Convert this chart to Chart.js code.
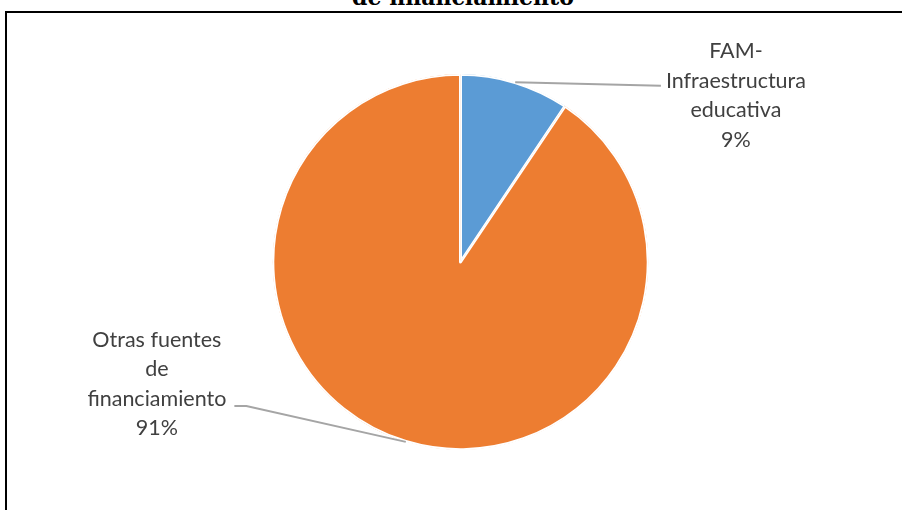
<!DOCTYPE html>
<html>
<head>
<meta charset="utf-8">
<script src="https://cdn.jsdelivr.net/npm/chart.js@4"></script>
<style>
  body { margin: 0; background: #fff; overflow: hidden; }
  #wrap { position: absolute; left: 0; top: 0; width: 902px; height: 510px; }
  #frame { position: absolute; left: 5px; top: 11px; right: -10px; bottom: -10px; border: 2px solid #000; pointer-events: none; }
  #title { position: absolute; left: 0; width: 926px; top: -14px; text-align: center; font: bold 22px "DejaVu Serif", serif; line-height: 22px; color: #000; }
</style>
</head>
<body>
<div id="title">de financiamiento</div>
<div id="frame"></div>
<div id="wrap"><canvas id="pie"></canvas></div>
<script>
const categories = ['FAM-Infraestructura educativa', 'Otras fuentes de financiamiento'];
const labelLines = [['FAM-', 'Infraestructura', 'educativa'], ['Otras fuentes', 'de', 'financiamiento']];
const values = [9.4, 90.6];
const sliceColors = ['#5B9BD5', '#ED7D31'];

const total = values.reduce((a, b) => a + b, 0);

// etiquetas con linea guia, estilo Excel
const leaderLabels = {
    id: 'leaderLabels',
    afterDraw(chart) {
        const ctx = chart.ctx;
        const arcs = chart.getDatasetMeta(0).data;
        ctx.save();
        ctx.font = '21.5px Lato';
        ctx.textAlign = 'center';
        ctx.textBaseline = 'middle';
        arcs.forEach((arc, i) => {
            const p = arc.getProps(['x', 'y', 'startAngle', 'endAngle', 'outerRadius'], true);
            const mid = (p.startAngle + p.endAngle) / 2;
            const ax = p.x + Math.cos(mid) * p.outerRadius;
            const ay = p.y + Math.sin(mid) * p.outerRadius;
            const lines = labelLines[i].concat([Math.round(values[i] / total * 100) + '%']);
            const right = Math.cos(mid) > 0;
            const cx = right ? p.x + p.outerRadius * 1.465 : p.x - p.outerRadius * 1.615;
            const cy = right ? p.y - p.outerRadius * 0.885 : p.y + p.outerRadius * 0.65;
            const lh = 29.5;
            const top = cy - lh * (lines.length - 1) / 2;

            ctx.strokeStyle = '#A5A5A5';
            ctx.lineWidth = 2;
            ctx.beginPath();
            ctx.moveTo(ax, ay);
            if (right) {
                const w = ctx.measureText(lines[1]).width;
                ctx.lineTo(cx - w / 2 - 5, top + lh + 5);
            } else {
                const w = ctx.measureText(lines[2]).width;
                const ly = top + lh * 2 + 7;
                ctx.lineTo(cx + w / 2 + 20, ly);
                ctx.lineTo(cx + w / 2 + 8, ly);
            }
            ctx.stroke();

            ctx.fillStyle = '#404040';
            lines.forEach((t, k) => ctx.fillText(t, cx, top + k * lh));
        });
        ctx.restore();
    }
};

const config = {
    type: 'pie',
    data: {
        labels: categories,
        datasets: [{
            data: values,
            backgroundColor: sliceColors,
            borderColor: '#ffffff',
            borderWidth: 1.5,
            borderAlign: 'inner'
        }]
    },
    options: {
        responsive: true,
        maintainAspectRatio: false,
        animation: false,
        layout: { padding: { top: 74, bottom: 60, left: 19, right: 0 } },
        plugins: {
            legend: { display: false },
            tooltip: { enabled: false }
        }
    },
    plugins: [leaderLabels]
};

const ctx = document.getElementById('pie').getContext('2d');
if (ctx !== null) {
    const myChart = new Chart(ctx, config);
}
</script>
</body>
</html>
